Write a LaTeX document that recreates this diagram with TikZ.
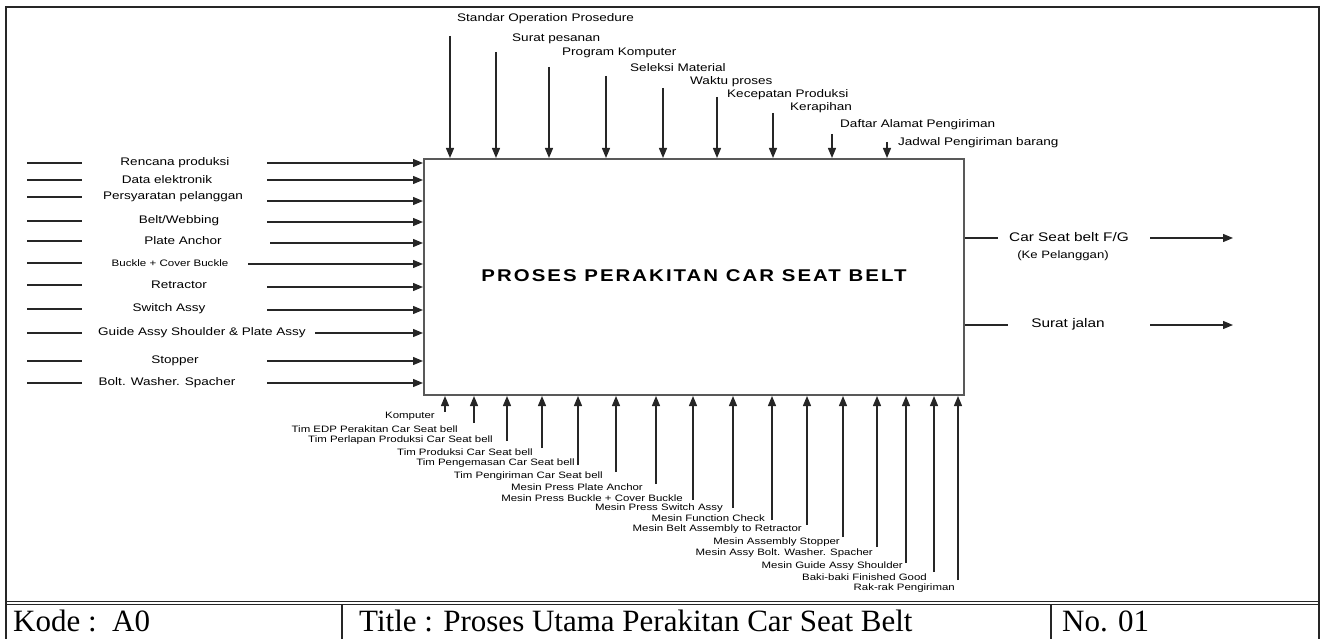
\documentclass[tikz,border=0pt]{standalone}
\usepackage{fontspec}
\setmainfont{Liberation Serif}
\newfontfamily\lblfont[FakeStretch=1.23]{Liberation Sans}
\newfontfamily\ttlfont[FakeStretch=1.2,LetterSpace=12]{Liberation Sans}
\usetikzlibrary{arrows.meta}
\begin{document}
\begin{tikzpicture}[x=1pt,y=-1pt,
  arr/.style={draw=black!85, line width=1.3pt, -{Triangle[length=10pt,width=8pt]}},
  ln/.style={draw=black!85, line width=1.3pt},
  lbl/.style={font=\lblfont\fontsize{11}{12}\selectfont, inner sep=0pt},
  blbl/.style={font=\lblfont\fontsize{9.3}{10}\selectfont, inner sep=0pt},
  rlbl/.style={font=\lblfont\fontsize{12.5}{13}\selectfont, inner sep=0pt},
  frame/.style={draw=black!85, line width=1.6pt}]
\useasboundingbox (0,0) rectangle (1323,639);
% outer frame
\draw[frame] (6,650) -- (6,7) -- (1319,7) -- (1319,650);
\draw[draw=black!85, line width=1pt] (6,601) -- (1319,601);
\draw[draw=black!85, line width=1pt] (6,604.5) -- (1319,604.5);
\draw[frame] (342,604.5) -- (342,650);
\draw[frame] (1051,604.5) -- (1051,650);
\node[anchor=base west, inner sep=0pt, font=\fontsize{31}{32}\selectfont] (kode) at (13,631) {Kode :\ \ A0};
\node[anchor=base west, inner sep=0pt, font=\fontsize{31}{32}\selectfont] (title) at (359,631) {Title : Proses Utama Perakitan Car Seat Belt};
\node[anchor=base west, inner sep=0pt, font=\fontsize{31}{32}\selectfont] (no) at (1062,631) {No. 01};
% main box
\node[draw=black!65, line width=2pt, minimum width=540pt, minimum height=236pt, inner sep=0pt] (box) at (694,277) {};
\node[font=\ttlfont\bfseries\fontsize{17}{18}\selectfont, inner sep=0pt] (boxt) at (694,276) {PROSES PERAKITAN CAR SEAT BELT};
% controls (top)
\foreach \x/\t/\lx/\ly/\s [count=\i] in {
  450/36/457/19/Standar Operation Prosedure,
  496/52/512/39/Surat pesanan,
  549/67/562/53/Program Komputer,
  606/76/630/68/Seleksi Material,
  663/88/690/82/Waktu proses,
  717/97/727/95/Kecepatan Produksi,
  773/113/790/108/Kerapihan,
  832/134/840/125/Daftar Alamat Pengiriman,
  887/142/898/143/Jadwal Pengiriman barang} {
  \coordinate (c\i) at (\x,\t);
  \draw[arr] (c\i) -- (c\i |- box.north);
  \node[lbl, anchor=west] (cl\i) at (\lx,\ly) {\s};
}
% inputs (left)
\foreach \y/\ty/\tx/\ax/\s [count=\i] in {
  163/163/175/267/Rencana produksi,
  180/180/167/267/Data elektronik,
  201/197/173/267/Persyaratan pelanggan,
  222/221/179/267/{Belt/Webbing},
  243/241/183/270/Plate Anchor,
  264/263/170/248/{\fontsize{9.4}{10}\selectfont Buckle + Cover Buckle},
  287/285/179/267/Retractor,
  310/309/169/267/Switch Assy,
  333/333/202/315/Guide Assy Shoulder \& Plate Assy,
  361/361/175/267/Stopper,
  383/383/167/267/Bolt. Washer. Spacher} {
  \coordinate (i\i) at (\ax,\y);
  \draw[arr] (i\i) -- (i\i -| box.west);
  \coordinate (s\i) at (27,\ty);
  \coordinate (e\i) at (82,\ty);
  \draw[ln] (s\i) -- (e\i);
  \node[lbl] (il\i) at (\tx,\ty) {\s};
}
% mechanisms (bottom)
\foreach \x/\b/\rx/\ly/\s [count=\i] in {
  445/412/435/416/Komputer,
  474/423/458/429/Tim EDP Perakitan Car Seat bell,
  507/441/493/440/Tim Perlapan Produksi Car Seat bell,
  542/448/533/452/Tim Produksi Car Seat bell,
  578/465/575/463/Tim Pengemasan Car Seat bell,
  616/472/603/476/Tim Pengiriman Car Seat bell,
  656/484/643/487/Mesin Press Plate Anchor,
  693/500/683/498/Mesin Press Buckle + Cover Buckle,
  733/508/723/508/Mesin Press Switch Assy,
  772/520/765/518/Mesin Function Check,
  807/525/802/529/Mesin Belt Assembly to Retractor,
  843/537/840/542/Mesin Assembly Stopper,
  877/547/873/553/Mesin Assy Bolt. Washer. Spacher,
  906/563/903/566/Mesin Guide Assy Shoulder,
  934/572/927/577/Baki-baki Finished Good,
  958/580/955/588/Rak-rak Pengiriman} {
  \coordinate (m\i) at (\x,\b);
  \draw[arr] (m\i) -- (m\i |- box.south);
  \node[blbl, anchor=east] (ml\i) at (\rx,\ly) {\s};
}
% outputs (right)
\coordinate (o1a) at (998,238);
\draw[ln] (o1a -| box.east) -- (o1a);
\node[rlbl] (ol1) at (1069,237) {Car Seat belt F/G};
\node[lbl, font=\lblfont\fontsize{10.7}{11}\selectfont] (ol1b) at (1063,256) {(Ke Pelanggan)};
\coordinate (o1b) at (1150,238);
\coordinate (o1c) at (1233,238);
\draw[arr] (o1b) -- (o1c);
\coordinate (o2a) at (1008,325);
\draw[ln] (o2a -| box.east) -- (o2a);
\node[rlbl] (ol2) at (1068,324) {Surat jalan};
\coordinate (o2b) at (1150,325);
\coordinate (o2c) at (1233,325);
\draw[arr] (o2b) -- (o2c);
\end{tikzpicture}
\end{document}
